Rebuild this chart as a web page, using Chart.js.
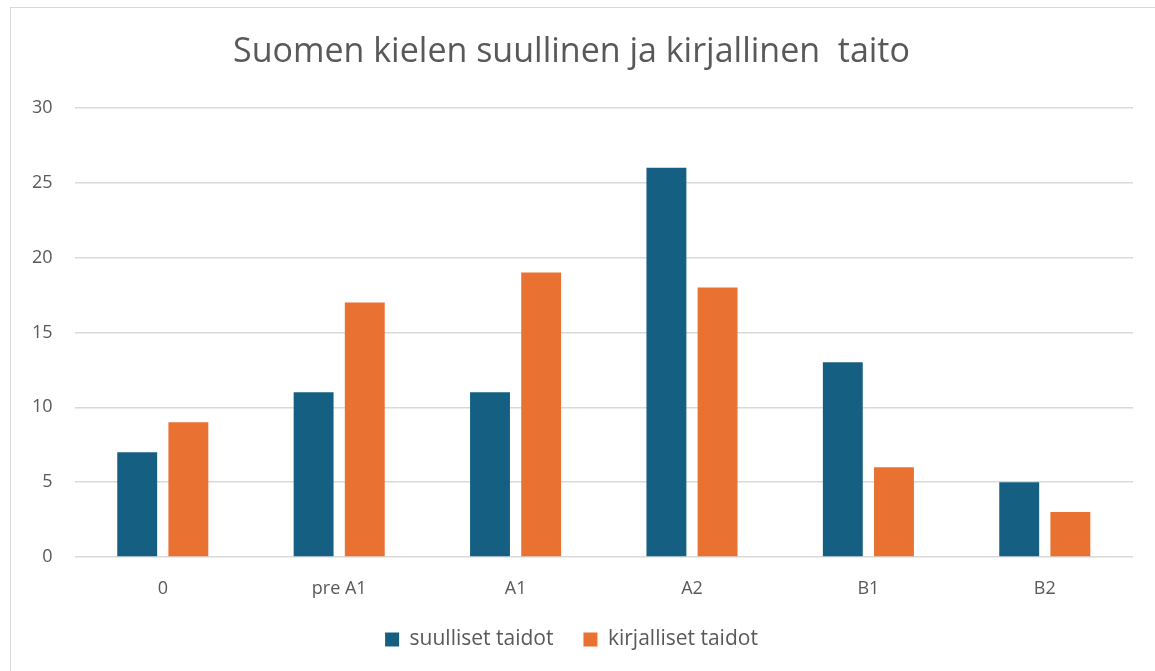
<!DOCTYPE html>
<html>
<head>
<meta charset="utf-8">
<script src="https://cdn.jsdelivr.net/npm/chart.js@4"></script>
<style>
  body{margin:0;background:#fff;overflow:hidden}
  #wrap{position:absolute;left:0;top:0;width:1155px;height:671px}
  #frame{position:absolute;left:10px;top:7px;width:1200px;height:700px;border:1.5px solid #d9d9d9;box-sizing:border-box;pointer-events:none}
</style>
</head>
<body>
<div id="frame"></div>
<div id="wrap"><canvas id="chart"></canvas></div>
<script>
// Data
var categories = ['0', 'pre A1', 'A1', 'A2', 'B1', 'B2'];
var suulliset = [7, 11, 11, 26, 13, 5];
var kirjalliset = [9, 17, 19, 18, 6, 3];
var seriesNames = ['suulliset taidot', 'kirjalliset taidot'];
var yTicks = [0, 5, 10, 15, 20, 25, 30];

var textColor = '#595959';
var fontFamily = '"Open Sans", "Noto Sans", sans-serif';

var ctx = document.getElementById('chart').getContext('2d');
new Chart(ctx, {
  type: 'bar',
  data: {
    labels: categories,
    datasets: [
      { label: seriesNames[0], data: suulliset, backgroundColor: '#156082' },
      { label: seriesNames[1], data: kirjalliset, backgroundColor: '#E97132' }
    ]
  },
  options: {
    responsive: true,
    maintainAspectRatio: false,
    animation: false,
    layout: { padding: { left: 10, right: 22, top: 32, bottom: 11 } },
    datasets: { bar: { categoryPercentage: 0.58, barPercentage: 0.78 } },
    plugins: {
      title: {
        display: true,
        text: 'Suomen kielen suullinen ja kirjallinen  taito',
        color: textColor,
        font: { family: fontFamily, size: 34, weight: 'normal' },
        padding: { top: 0, bottom: 35 }
      },
      legend: {
        position: 'bottom',
        labels: {
          color: textColor,
          boxWidth: 14,
          boxHeight: 14,
          padding: 30,
          font: { family: fontFamily, size: 21 }
        }
      },
      tooltip: { enabled: false }
    },
    scales: {
      x: {
        grid: { display: false },
        border: { display: false },
        ticks: { color: textColor, font: { family: fontFamily, size: 18 }, padding: 13 },
        afterFit: function(axis){ axis.height = 42; }
      },
      y: {
        min: 0,
        max: 30,
        afterBuildTicks: function(axis){
          axis.ticks = yTicks.map(function(v){ return { value: v }; });
        },
        grid: { color: '#d9d9d9', lineWidth: 1.5, drawTicks: false },
        border: { display: false },
        ticks: { color: textColor, font: { family: fontFamily, size: 18 }, padding: 22 }
      }
    }
  }
});
</script>
</body>
</html>
